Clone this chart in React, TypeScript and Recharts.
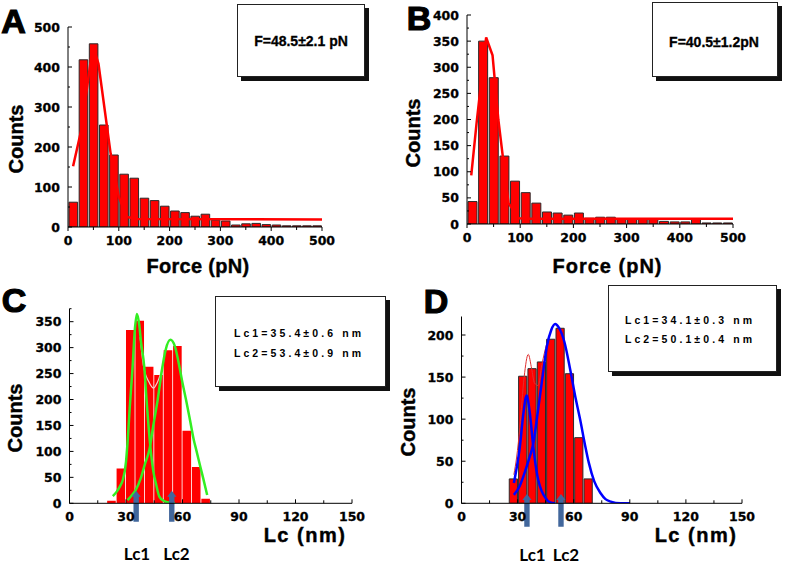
import React from "react";
import { ComposedChart, Bar, Line, XAxis, YAxis, ReferenceLine } from "recharts";

// ---- panel A / B : force histograms (20 pN bins) ----
const forceBins = [10, 30, 50, 70, 90, 110, 130, 150, 170, 190, 210, 230, 250, 270, 290, 310, 330, 350, 370, 390, 410, 430, 450, 470, 490];
const countsA = [62, 418, 458, 255, 180, 132, 122, 72, 66, 52, 40, 36, 27, 32, 17, 15, 5, 8, 9, 6, 5, 3, 3, 3, 3];
const countsB = [43, 350, 280, 130, 82, 60, 40, 23, 21, 17, 21, 11, 13, 13, 9, 9, 9, 9, 5, 4, 4, 9, 2, 2, 2];
const fitA: [number, number][] = [[10, 152], [26, 242], [47, 437], [51, 445], [60, 408], [84, 183], [100, 75], [116, 25], [135, 20], [500, 19]];
const fitB: [number, number][] = [[8, 93], [18, 193], [36, 357], [48, 323], [59, 199], [67, 132], [78, 40], [97, 11], [120, 10], [500, 10]];

// ---- panel C / D : contour length histograms (5 nm bins) ----
const lcBinsC = [22.5, 27.5, 32.5, 37.5, 42.5, 47.5, 52.5, 57.5, 62.5, 67.5, 72.5];
const countsC = [5, 67, 334, 352, 263, 247, 295, 303, 140, 70, 9];
const lcBinsD = [27.5, 32.5, 37.5, 42.5, 47.5, 52.5, 57.5, 62.5, 67.5];
const countsD = [29, 151, 160, 168, 195, 208, 154, 78, 29];

const greenC1: [number, number][] = [[23, 14], [25, 22], [27, 34], [28.3, 45], [30, 80], [30.8, 116], [32, 185], [33.5, 263], [34.7, 335], [35.8, 365], [37, 345], [38, 310], [39.7, 263], [41, 195], [42.9, 110], [44.5, 62], [45.9, 38], [47.7, 13], [50, 5], [52, 2], [56, 0]];
const greenC2: [number, number][] = [[30.8, 6], [33, 15], [35.2, 26], [38, 50], [40, 75], [42.4, 103], [44.5, 150], [46.8, 199], [49, 255], [51, 295], [53.6, 315], [56, 302], [58, 270], [60, 232], [61.9, 199], [64, 160], [66, 122], [67.3, 103], [69.5, 70], [71, 48], [73.1, 16]];
const sumC: [number, number][] = [[37.5, 320], [39.2, 266], [42, 235], [44.6, 222], [46.5, 232], [48.1, 247], [50, 275]];

const blueD1: [number, number][] = [[28, 24], [29.5, 42], [31.2, 67], [33, 105], [34.8, 128], [36.5, 108], [38.4, 67], [40, 40], [41, 28], [43, 14], [44.7, 7], [47.4, 1], [50, 0]];
const blueD2: [number, number][] = [[28, 10], [31, 20], [34, 38], [36, 52], [38.4, 71], [41, 112], [43.8, 158], [45.6, 186], [48, 206], [50.1, 213], [52, 209], [55, 192], [58.2, 158], [61, 125], [63.5, 99], [66, 70], [68.1, 48], [71, 26], [74.4, 12], [77, 5], [79.8, 2], [85, 0], [90, 0]];
const sumD: [number, number][] = [[28, 34], [29.5, 55], [31.2, 90], [33.5, 150], [35.7, 177], [37.5, 160], [39, 143], [41, 140], [43, 165], [45.6, 190]];

const arrowsC = [35.4, 54.3];
const arrowsD = [35, 53.2];

const forceTicksX = [0, 50, 100, 150, 200, 250, 300, 350, 400, 450, 500];
const forceMajorsX = [0, 100, 200, 300, 400, 500];
const countTicksA = [0, 50, 100, 150, 200, 250, 300, 350, 400, 450, 500];
const countMajorsA = [0, 100, 200, 300, 400, 500];
const countTicksB = [0, 25, 50, 75, 100, 125, 150, 175, 200, 225, 250, 275, 300, 325, 350, 375, 400];
const countMajorsB = [0, 50, 100, 150, 200, 250, 300, 350, 400];
const lcTicksX = [0, 15, 30, 45, 60, 75, 90, 105, 120, 135, 150];
const lcMajorsX = [0, 30, 60, 90, 120, 150];
const countTicksC = [0, 25, 50, 75, 100, 125, 150, 175, 200, 225, 250, 275, 300, 325, 350, 375];
const countMajorsC = [0, 50, 100, 150, 200, 250, 300, 350];
const countTicksD = [0, 25, 50, 75, 100, 125, 150, 175, 200];
const countMajorsD = [0, 50, 100, 150, 200];

const tickFont = { fontFamily: "DejaVu Sans", fontWeight: 700, fontSize: 12.5, fill: "#000", stroke: "#000", strokeWidth: 0.3 };

function leftTick(majors: number[]) {
  return (p: any) => {
    const v = p.payload.value;
    const major = majors.includes(v);
    return (
      <g>
        <line x1={p.x} x2={p.x + (major ? 4 : 2)} y1={p.y} y2={p.y} stroke="#000" />
        {major && (
          <text x={p.x - 8} y={p.y} dy={4.5} textAnchor="end" {...tickFont}>{v}</text>
        )}
      </g>
    );
  };
}

function bottomTick(majors: number[], inward: boolean) {
  return (p: any) => {
    const v = p.payload.value;
    const major = majors.includes(v);
    const len = (major ? 4 : 3) * (inward ? -1 : 1);
    return (
      <g>
        <line x1={p.x} x2={p.x} y1={p.y} y2={p.y + len} stroke="#000" />
        {major && (
          <text x={p.x} y={p.y + 13} dy={4.5} textAnchor="middle" {...tickFont}>{v}</text>
        )}
      </g>
    );
  };
}

const Arrow = (p: any) => {
  const x = p.x1;
  const top = Math.min(p.y1, p.y2);
  const bot = Math.max(p.y1, p.y2);
  const w = 2.7, hw = 4.6, hl = 6;
  const d = `M${x - w},${bot} L${x - w},${top + hl} L${x - hw},${top + hl} L${x},${top} L${x + hw},${top + hl} L${x + w},${top + hl} L${x + w},${bot} Z`;
  return <path d={d} fill="#42679c" />;
};

type Curve = { pts: [number, number][]; color: string; width: number; smooth: boolean };

function Hist(props: {
  left: number; top: number; width: number; height: number;
  margin: { top: number; right: number; bottom: number; left: number };
  yWidth: number; xMax: number; yMax: number;
  xTicks: number[]; xMajors: number[]; xInward: boolean;
  yTicks: number[]; yMajors: number[];
  bins: number[]; counts: number[];
  barSize: number; barStroke: string; barStrokeWidth: number;
  curves: Curve[]; arrows?: number[]; arrowSpan?: [number, number];
}) {
  const data = props.bins.map((x, i) => ({ x, count: props.counts[i] }));
  return (
    <div style={{ position: "absolute", left: props.left, top: props.top }}>
      <ComposedChart width={props.width} height={props.height} data={data} margin={props.margin}>
        <XAxis
          xAxisId="main" dataKey="x" type="number" domain={[0, props.xMax]} allowDataOverflow
          ticks={props.xTicks} interval={0} height={30} tickSize={0} tickMargin={0}
          tickLine={false} axisLine={{ stroke: "#000" }}
          tick={bottomTick(props.xMajors, props.xInward)}
        />
        <XAxis xAxisId="bars" dataKey="x" type="number" domain={[0, props.xMax]} hide height={0} />
        <YAxis
          type="number" domain={[0, props.yMax]} allowDataOverflow ticks={props.yTicks} interval={0}
          width={props.yWidth} tickSize={0} tickMargin={0} tickLine={false}
          axisLine={{ stroke: "#000" }} tick={leftTick(props.yMajors)}
        />
        <Bar
          xAxisId="bars" dataKey="count" fill="#ff0000" barSize={props.barSize}
          stroke={props.barStroke} strokeWidth={props.barStrokeWidth} isAnimationActive={false}
        />
        {props.curves.map((c, i) => (
          <Line
            key={i} xAxisId="main" data={c.pts.map(([x, y]) => ({ x, y }))} dataKey="y"
            type={c.smooth ? "monotone" : "linear"} stroke={c.color} strokeWidth={c.width}
            dot={false} activeDot={false} isAnimationActive={false}
          />
        ))}
        {(props.arrows || []).map((a, i) => (
          <ReferenceLine
            key={"a" + i} xAxisId="main" ifOverflow="visible"
            segment={[{ x: a, y: props.arrowSpan![0] }, { x: a, y: props.arrowSpan![1] }]}
            shape={Arrow}
          />
        ))}
      </ComposedChart>
    </div>
  );
}

const abs = (x: number, y: number, extra: React.CSSProperties = {}): React.CSSProperties => ({
  position: "absolute", left: x, top: y, transform: "translate(-50%, -50%)", whiteSpace: "nowrap", lineHeight: 1, ...extra,
});

const arial = "'Liberation Sans', Arial, sans-serif";
const letterStyle: React.CSSProperties = { fontFamily: arial, fontWeight: 700, fontSize: 34, WebkitTextStroke: "1.2px #000" };
const titleStyle: React.CSSProperties = { fontFamily: arial, fontWeight: 700, fontSize: 20, WebkitTextStroke: "0.4px #000" };
const boxStyle: React.CSSProperties = { position: "absolute", border: "1px solid #222", background: "#fff", boxShadow: "4px 4px 0 #111", boxSizing: "border-box" };
const resultStyle: React.CSSProperties = { fontFamily: arial, fontWeight: 700, fontSize: 14, WebkitTextStroke: "0.3px #000" };
const lcStyle: React.CSSProperties = { fontFamily: arial, fontWeight: 700, fontSize: 10.5, letterSpacing: 3.1 };
const peakStyle: React.CSSProperties = { fontFamily: "Lato, sans-serif", fontWeight: 700, fontSize: 17 };
const rot: React.CSSProperties = { ...titleStyle, transform: "translate(-50%, -50%) rotate(-90deg)" };

export default function App() {
  return (
    <div style={{ position: "relative", width: 787, height: 563, background: "#fff", overflow: "hidden", color: "#000" }}>
      <style>{"body{margin:0}"}</style>

      <Hist
        left={0} top={0} width={340} height={280}
        margin={{ top: 27, right: 18, bottom: 23, left: 0 }} yWidth={68} xMax={500} yMax={500}
        xTicks={forceTicksX} xMajors={forceMajorsX} xInward={false}
        yTicks={countTicksA} yMajors={countMajorsA}
        bins={forceBins} counts={countsA} barSize={8.6} barStroke="#2a2a2a" barStrokeWidth={1}
        curves={[{ pts: fitA, color: "#ff0000", width: 2.5, smooth: false }]}
      />
      <Hist
        left={390} top={0} width={397} height={280}
        margin={{ top: 15, right: 54, bottom: 26, left: 0 }} yWidth={77} xMax={500} yMax={400}
        xTicks={forceTicksX} xMajors={forceMajorsX} xInward={false}
        yTicks={countTicksB} yMajors={countMajorsB}
        bins={forceBins} counts={countsB} barSize={9} barStroke="#2a2a2a" barStrokeWidth={1}
        curves={[{ pts: fitB, color: "#ff0000", width: 2.5, smooth: false }]}
      />
      <Hist
        left={0} top={280} width={390} height={283}
        margin={{ top: 28.7, right: 38, bottom: 29.7, left: 0 }} yWidth={69.5} xMax={150} yMax={375}
        xTicks={lcTicksX} xMajors={lcMajorsX} xInward={true}
        yTicks={countTicksC} yMajors={countMajorsC}
        bins={lcBinsC} counts={countsC} barSize={8.6} barStroke="none" barStrokeWidth={0}
        curves={[
          { pts: sumC, color: "#f3d0d0", width: 1.2, smooth: true },
          { pts: greenC1, color: "#33ee22", width: 2.5, smooth: true },
          { pts: greenC2, color: "#33ee22", width: 2.5, smooth: true },
        ]}
        arrows={arrowsC} arrowSpan={[-35.5, 24]}
      />
      <Hist
        left={390} top={280} width={397} height={283}
        margin={{ top: 36.5, right: 45, bottom: 29.7, left: 0 }} yWidth={71.5} xMax={150} yMax={222}
        xTicks={lcTicksX} xMajors={lcMajorsX} xInward={true}
        yTicks={countTicksD} yMajors={countMajorsD}
        bins={lcBinsD} counts={countsD} barSize={8.2} barStroke="#2a2a2a" barStrokeWidth={1}
        curves={[
          { pts: sumD, color: "#e03030", width: 1, smooth: true },
          { pts: blueD1, color: "#0000ff", width: 2.5, smooth: true },
          { pts: blueD2, color: "#0000ff", width: 2.5, smooth: true },
        ]}
        arrows={arrowsD} arrowSpan={[-28, 11]}
      />

      {/* panel letters */}
      <div style={abs(13.5, 21, letterStyle)}>A</div>
      <div style={abs(419, 17.5, letterStyle)}>B</div>
      <div style={abs(14, 300, letterStyle)}>C</div>
      <div style={abs(436, 301, letterStyle)}>D</div>

      {/* axis titles */}
      <div style={abs(16, 139, rot)}>Counts</div>
      <div style={abs(413, 133, rot)}>Counts</div>
      <div style={abs(15, 418, rot)}>Counts</div>
      <div style={abs(407.5, 422, rot)}>Counts</div>
      <div style={abs(198, 266, { ...titleStyle, letterSpacing: 0.3 })}>Force (pN)</div>
      <div style={abs(607.5, 266, { ...titleStyle, letterSpacing: 1 })}>Force (pN)</div>
      <div style={abs(305, 535, { ...titleStyle, letterSpacing: 1.5 })}>Lc (nm)</div>
      <div style={abs(696, 535, { ...titleStyle, letterSpacing: 1.5 })}>Lc (nm)</div>

      {/* peak labels under arrows */}
      <div style={abs(137, 553, peakStyle)}>Lc1</div>
      <div style={abs(176.5, 553, peakStyle)}>Lc2</div>
      <div style={abs(532.5, 553.5, peakStyle)}>Lc1</div>
      <div style={abs(566, 553.5, peakStyle)}>Lc2</div>

      {/* result boxes */}
      <div style={{ ...boxStyle, left: 237, top: 4, width: 128, height: 73 }} />
      <div style={abs(301, 41, resultStyle)}>F=48.5±2.1 pN</div>
      <div style={{ ...boxStyle, left: 652, top: 2, width: 126, height: 75 }} />
      <div style={abs(714, 41.5, resultStyle)}>F=40.5±1.2pN</div>
      <div style={{ ...boxStyle, left: 215, top: 296, width: 171, height: 91 }} />
      <div style={abs(299, 333, lcStyle)}>Lc1=35.4±0.6 nm</div>
      <div style={abs(299, 353, lcStyle)}>Lc2=53.4±0.9 nm</div>
      <div style={{ ...boxStyle, left: 608, top: 285, width: 169, height: 87 }} />
      <div style={abs(690, 320, lcStyle)}>Lc1=34.1±0.3 nm</div>
      <div style={abs(690, 338.5, lcStyle)}>Lc2=50.1±0.4 nm</div>
    </div>
  );
}
